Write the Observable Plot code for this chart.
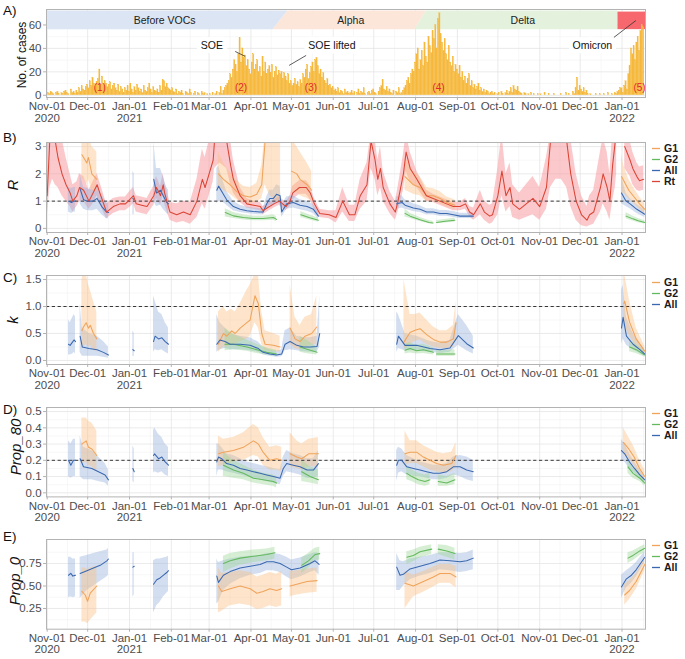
<!DOCTYPE html>
<html><head><meta charset="utf-8">
<script src="https://cdn.jsdelivr.net/npm/d3@7"></script>
<script src="https://cdn.jsdelivr.net/npm/@observablehq/plot@0.6"></script>
<style>
body{margin:0;background:#fff;font-family:"Liberation Sans",Arial,sans-serif;}
#wrap{position:relative;width:685px;height:659px;overflow:hidden;background:#fff;}
#wrap svg{position:absolute;left:0;overflow:visible;}
g[aria-label$="-axis tick"]{stroke:#b3b3b3;}
.lab{position:absolute;left:3px;font-size:13.5px;color:#111;line-height:1;}
.yt{position:absolute;white-space:nowrap;color:#111;line-height:1;transform:translate(-50%,-50%) rotate(-90deg);}
</style>
</head><body><div id="wrap"></div>
<script>
// ---------- DATA ----------
const startDate = "2020-11-01";
const tickDatesStr = ["2020-11-01","2020-12-01","2021-01-01","2021-02-01","2021-03-01","2021-04-01","2021-05-01","2021-06-01","2021-07-01","2021-08-01","2021-09-01","2021-10-01","2021-11-01","2021-12-01","2022-01-01"];
const tickLabels = ["Nov-01\n2020","Dec-01","Jan-01\n2021","Feb-01","Mar-01","Apr-01","May-01","Jun-01","Jul-01","Aug-01","Sep-01","Oct-01","Nov-01","Dec-01","Jan-01\n2022"];

// daily cases by month (first day of month, counts)
const cases2020_11 = [0,2,1,3,2,1,0,2,3,1,0,2,1,3,4,2,1,0,5,2,3,1,4,2,6,3,8,5,4,7];
const cases2020_12 = [9,6,12,8,15,10,7,11,14,22,9,16,8,12,10,7,9,11,5,8,10,6,4,9,3,7,5,2,6,4,8];
const cases2021_01 = [3,10,5,2,7,4,9,6,3,5,2,8,4,3,6,10,5,2,7,4,3,5,2,8,4,13,12,7,10,6,5];
const cases2021_02 = [4,6,3,2,5,1,3,2,4,1,0,3,2,1,5,2,0,1,3,0,2,1,0,3,1,2,0,1];
const cases2021_03 = [0,1,0,2,0,1,3,0,2,7,1,4,6,8,10,12,18,15,22,30,26,20,35,49,28,40,32,34,25,30,22];
const cases2021_04 = [18,28,35,22,26,30,20,24,16,33,20,28,18,22,25,19,26,15,20,24,17,21,18,20,14,19,16,12,18,10];
const cases2021_05 = [12,8,10,14,9,11,7,13,10,18,15,22,26,14,19,24,28,20,30,32,25,18,22,15,19,12,10,14,8,9,6];
const cases2021_06 = [7,4,5,3,6,2,4,3,1,5,2,3,1,2,4,1,3,0,2,5,1,3,2,6,1,0,2,3,1,4];
const cases2021_07 = [5,2,1,0,3,6,8,13,5,4,7,3,5,2,1,4,0,3,2,6,1,2,4,6,8,12,15,10,18,22,20];
const cases2021_08 = [28,35,40,22,30,38,25,45,33,28,50,42,36,55,48,60,40,65,70,52,45,38,48,35,30,42,28,25,33,20,26];
const cases2021_09 = [22,18,25,15,20,12,16,10,14,18,8,12,6,9,5,7,10,4,6,3,5,2,4,3,1,2,3,1,2,0];
const cases2021_10 = [1,2,0,3,1,0,2,4,1,3,6,2,8,5,4,7,3,2,1,0,2,1,0,1,0,2,0,1,0,0,1];
const cases2021_11 = [0,1,0,0,2,0,0,1,0,0,0,1,0,0,0,0,1,0,0,0,2,0,1,0,0,3,1,6,15,4];
const cases2021_12 = [8,5,3,6,2,4,1,0,1,0,0,0,1,0,0,1,0,0,1,0,0,2,0,0,1,0,2,1,3,4,6];
const cases2022_01 = [6,2,8,12,5,18,25,40,35,42,30,45,50,38,55,60,58];
const casesByMonth = [["2020-11-01",cases2020_11],["2020-12-01",cases2020_12],["2021-01-01",cases2021_01],["2021-02-01",cases2021_02],["2021-03-01",cases2021_03],["2021-04-01",cases2021_04],["2021-05-01",cases2021_05],["2021-06-01",cases2021_06],["2021-07-01",cases2021_07],["2021-08-01",cases2021_08],["2021-09-01",cases2021_09],["2021-10-01",cases2021_10],["2021-11-01",cases2021_11],["2021-12-01",cases2021_12],["2022-01-01",cases2022_01]];

// variant periods (day offsets from 2020-11-01): slanted boundaries [bottom, top]
const variantNames = ["Before VOCs","Alpha","Delta","Omicron"];
const variantBounds = [[167.4,178.5],[272.6,281],[423,423]];
const variantBandY = [56,72];
const omicronBandY = [56,71];
// wave labels: day, text
const waveDays = [39,143.7,195.5,290,439];
const waveLabels = ["(1)","(2)","(3)","(4)","(5)"];
// annotations: label, label day, label value, segment (d1,v1,d2,v2)
const annotLabels = ["SOE","SOE lifted","Omicron"];
const annotPos = [[122,42.5],[211,42.5],[404,42.5]];
const annotSeg = [[139.3,37.4,146.7,33.2],[191.9,34,179.3,25.5],[420,49.4,436.3,63.8]];

// series rows: [day, estimate, lower, upper]; null = gap
const R_Rt = [[0,1.2,0.4,3.5],[2,3.3,1.5,3.5],[4,3.5,1.8,3.5],[6,3.2,1.6,3.5],[8,2.6,1.5,3.5],[11,2.0,1.2,3.3],[14,1.6,1.0,2.6],[17,1.3,0.8,2.0],[19,1.0,0.6,1.6],[22,1.2,0.8,1.7],[24,1.5,1.0,2.0],[27,1.4,1.0,1.9],[31,1.0,0.7,1.4],[34,1.3,0.9,1.7],[37,1.6,1.2,2.0],[39,1.3,0.9,1.7],[44,0.6,0.35,0.9],[49,0.8,0.55,1.1],[54,0.9,0.65,1.15],[58,0.9,0.65,1.15],[62,1.1,0.8,1.4],[64,1.2,0.9,1.5],[66,0.9,0.6,1.2],[70,0.85,0.55,1.15],[74,0.8,0.5,1.1],[79,1.2,0.85,1.55],[81,1.5,1.1,1.9],[84,1.2,0.85,1.55],[86,1.6,1.2,2.0],[87,1.3,0.9,1.7],[91,0.6,0.3,0.95],[96,0.5,0.2,0.9],[101,0.6,0.25,1.0],[106,0.5,0.15,0.95],[111,1.0,0.4,1.8],[115,1.8,0.9,2.9],[117,1.5,0.7,2.6],[120,2.0,1.2,3.2],[123,2.5,1.7,3.5],[124,3.2,2.2,3.5],[128,3.5,2.4,3.5],[133,3.2,2.2,3.5],[136,2.3,1.6,3.2],[138,1.8,1.3,2.5],[143,1.2,0.95,1.5],[148,0.9,0.75,1.1],[153,0.85,0.7,1.0],[158,0.8,0.65,0.95],[160,0.65,0.5,0.8],[163,0.75,0.6,0.9],[168,0.9,0.75,1.05],[172,1.0,0.85,1.15],[177,0.8,0.65,0.95],[180,1.0,0.8,1.2],[182,1.3,1.05,1.55],[187,1.5,1.25,1.75],[192,1.5,1.25,1.75],[195,1.3,1.05,1.55],[198,0.9,0.7,1.1],[202,0.55,0.4,0.7],[209,0.5,0.35,0.65],[214,0.4,0.2,0.65],[219,1.0,0.6,1.5],[224,0.5,0.25,0.85],[228,0.5,0.25,0.85],[232,1.2,0.7,1.8],[237,1.6,1.0,2.4],[240,3.2,2.2,3.5],[243,2.5,1.8,3.3],[245,1.8,1.2,2.5],[247,2.2,1.5,3.0],[249,1.5,1.0,2.1],[254,0.9,0.55,1.35],[258,0.6,0.3,1.0],[260,1.0,0.6,1.5],[264,2.0,1.4,2.7],[266,2.8,2.1,3.5],[269,2.2,1.7,2.8],[274,1.8,1.5,2.1],[281,1.2,1.0,1.4],[286,1.1,0.95,1.25],[291,1.0,0.85,1.15],[296,0.9,0.75,1.05],[301,0.8,0.65,0.95],[306,0.8,0.65,0.95],[310,0.9,0.7,1.1],[313,0.6,0.45,0.8],[316,0.5,0.3,0.75],[321,0.9,0.5,1.4],[324,0.6,0.3,1.0],[328,0.45,0.15,0.85],[330,0.5,0.2,0.9],[334,1.2,0.5,2.2],[337,2.1,1.2,3.5],[340,1.2,0.6,2.0],[343,1.5,0.8,2.4],[345,0.9,0.4,1.6],[350,0.7,0.3,1.3],[355,0.9,0.4,1.6],[360,1.1,0.5,1.9],[365,0.8,0.3,1.5],[370,1.5,0.7,2.6],[373,3.2,1.5,3.5],[377,3.5,1.8,3.5],[381,3.5,1.8,3.5],[385,3.2,1.5,3.5],[388,2.0,0.8,3.3],[392,1.0,0.3,2.0],[396,0.5,0.1,1.2],[400,0.3,0.05,0.8],[402,0.5,0.1,1.2],[405,0.6,0.15,1.4],[410,1.5,0.6,2.8],[412,2.0,0.9,3.3],[415,1.5,0.6,2.8],[417,1.0,0.3,2.0],[419,2.3,1.0,3.5],[421,3.2,1.5,3.5],[422,3.5,2.0,3.5],null,[428,3.0,2.2,3.5],[432,2.5,1.9,3.2],[434,2.2,1.6,2.8],[437,1.9,1.4,2.4],[439,1.75,1.35,2.25],[442,1.8,1.4,2.3]];
const R_All = [[15.8,1.0,0.6,1.5],[18,0.95,0.55,1.45],[20,1.0,0.6,1.5],[21,1.0,0.6,1.5],null,[24.4,1.45,0.9,2.0],[27,1.05,0.7,1.5],[30,1.0,0.65,1.45],[34,1.0,0.65,1.4],[37,1.1,0.7,1.5],[40.5,0.8,0.5,1.2],[44,0.6,0.35,0.95],[45.5,0.58,0.35,0.9],null,[63.5,1.1,0.5,2.1],[64.5,1.05,0.5,2.0],null,[79,1.8,1.0,3.2],[81,1.3,0.8,2.2],[84,1.4,0.85,2.2],[86,1.2,0.7,1.9],[88.6,0.95,0.55,1.5],[90,0.9,0.5,1.4],null,[125.7,1.4,0.9,2.2],[127,1.55,1.0,2.3],[130.6,1.25,0.95,1.7],[133,1.05,0.85,1.35],[138,0.8,0.65,1.0],[143,0.7,0.58,0.85],[148,0.65,0.55,0.78],[152.8,0.62,0.52,0.75],[157.8,0.6,0.5,0.72],[160,0.6,0.5,0.72],[162.7,0.9,0.7,1.15],[165,1.1,0.85,1.4],[167.6,1.1,0.85,1.4],[170,1.25,0.95,1.6],[172.6,1.2,0.9,1.55],[173.8,0.6,0.4,0.85],[175,0.7,0.5,0.95],[177.5,0.9,0.7,1.15],[182.4,0.95,0.75,1.2],[187.4,0.85,0.68,1.05],[192.6,0.8,0.63,1.0],[197.3,0.7,0.55,0.88],[201,0.45,0.35,0.6],null,[259,0.9,0.7,1.15],[263,0.95,0.75,1.2],[265.2,0.85,0.7,1.05],[271.4,0.75,0.62,0.9],[276.3,0.7,0.58,0.83],[281.2,0.6,0.5,0.72],[286.2,0.6,0.5,0.72],[291.1,0.55,0.45,0.66],[296.1,0.55,0.45,0.66],[301,0.5,0.4,0.62],[306,0.45,0.36,0.56],[311,0.45,0.36,0.56],[315.8,0.45,0.35,0.58],null,[425.6,1.3,0.9,1.9],[429,1.0,0.8,1.3],[432,0.9,0.72,1.1],[437,0.7,0.55,0.88],[442.9,0.52,0.4,0.68]];
const R_G1 = [[25.7,2.7,1.8,3.5],[27,2.6,1.8,3.5],[29.4,2.4,1.6,3.4],[30.6,2.6,1.8,3.5],[33.1,2.0,1.4,3.0],[36.8,1.8,1.3,2.8],null,[126.9,2.0,1.5,2.8],[130.6,1.8,1.4,2.4],[135.6,1.6,1.25,2.05],[140.5,1.35,1.05,1.75],[145.4,1.2,0.95,1.55],[150.4,1.15,0.9,1.5],[155.3,1.25,0.95,1.65],[159,1.6,1.1,2.3],[161.5,3.2,1.6,3.5],[165,3.5,1.2,3.5],[170,3.5,1.0,3.5],[173,3.5,1.0,3.5],null,[181,2.1,1.3,3.3],[185,2.0,1.3,3.0],[187.4,1.8,1.2,2.8],[192.6,1.6,1.1,2.4],[196,1.4,1.0,2.1],null,[265.2,1.9,1.4,2.6],[271.4,1.6,1.25,2.1],[276.3,1.5,1.2,1.9],[281.2,1.2,1.0,1.5],[286.2,1.2,1.0,1.45],[291.1,1.1,0.9,1.35],[296.1,0.95,0.78,1.15],[302.2,0.85,0.7,1.05],null,[425.6,1.9,1.3,2.7],[427.3,1.75,1.3,2.3],[431,1.4,1.1,1.8],[435,1.15,0.9,1.45],[439,0.9,0.7,1.15],[442.9,0.7,0.52,0.9]];
const R_G2 = [[132,0.58,0.42,0.72],[138,0.46,0.36,0.58],[145.4,0.4,0.31,0.5],[152.8,0.36,0.28,0.45],[160,0.36,0.28,0.45],[167.6,0.4,0.3,0.5],[170,0.33,0.24,0.43],null,[188,0.5,0.4,0.62],[194,0.4,0.32,0.5],[201,0.3,0.23,0.38],null,[265.2,0.55,0.42,0.7],[269,0.45,0.36,0.56],[276.3,0.32,0.25,0.4],[283,0.22,0.17,0.29],[286,0.2,0.15,0.26],null,[288.6,0.22,0.17,0.29],[295,0.26,0.2,0.33],[302.2,0.3,0.23,0.38],null,[429,0.45,0.35,0.58],[434,0.35,0.27,0.45],[438,0.28,0.21,0.36],[442.9,0.22,0.16,0.28]];

const K_All = [[15.8,0.3,0.1,0.75],[17,0.28,0.1,0.7],[19,0.35,0.12,0.8],[20,0.38,0.15,0.85],[21,0.35,0.12,0.8],null,[24.4,0.45,0.15,1.05],[26,0.25,0.08,0.6],[31,0.22,0.08,0.5],[37,0.2,0.08,0.45],[41.7,0.15,0.06,0.35],[45.4,0.1,0.04,0.25],null,[63.5,0.2,0.08,0.55],[64.5,0.18,0.07,0.5],null,[78.8,0.35,0.15,1.2],[80,0.45,0.2,1.1],[82.5,0.4,0.18,0.9],[85,0.42,0.2,0.85],[87.5,0.35,0.15,0.7],[89.9,0.3,0.12,0.6],null,[125.7,0.3,0.15,0.85],[128,0.38,0.2,0.7],[131.8,0.35,0.22,0.6],[135.6,0.3,0.2,0.5],[143,0.3,0.2,0.45],[150.4,0.28,0.18,0.42],[156.5,0.22,0.15,0.34],[160,0.15,0.1,0.25],[165,0.12,0.08,0.2],[170,0.1,0.06,0.17],[173.8,0.12,0.07,0.2],[176.3,0.3,0.18,0.55],[180,0.35,0.2,0.6],[185,0.28,0.18,0.45],[190,0.25,0.16,0.42],[195,0.25,0.15,0.42],[200,0.26,0.15,0.45],[202,0.5,0.25,1.2],null,[259,0.3,0.15,0.9],[260.3,0.45,0.22,0.85],[265.2,0.28,0.18,0.5],[273.8,0.28,0.18,0.45],[283.7,0.22,0.15,0.35],[291.1,0.2,0.13,0.32],[298.5,0.23,0.15,0.37],[304.7,0.46,0.28,0.85],[310.9,0.31,0.18,0.65],[315.8,0.23,0.12,0.45],null,[425.6,0.6,0.3,1.3],[426.8,0.8,0.4,1.4],[429.3,0.45,0.28,0.8],[434.2,0.3,0.2,0.5],[439.2,0.2,0.13,0.32],[442.9,0.12,0.08,0.2]];
const K_G1 = [[25.7,0.55,0.2,1.5],[26.9,0.62,0.25,1.6],[28.9,0.7,0.3,1.6],[30.6,0.6,0.25,1.4],[32,0.65,0.28,1.3],[34.3,0.5,0.2,1.1],[36.8,0.4,0.15,0.9],null,[126.9,0.3,0.15,0.9],[130.6,0.5,0.25,1.0],[133,0.45,0.25,0.9],[136.8,0.55,0.3,0.95],[139.3,0.5,0.3,0.9],[143,0.6,0.35,1.05],[148,0.7,0.4,1.3],[150.4,0.75,0.45,1.4],[154,1.2,0.7,1.6],[156.5,1.05,0.6,1.6],[159,0.5,0.3,0.9],[161.5,0.3,0.18,0.55],[167.6,0.28,0.17,0.5],[172.6,0.25,0.15,0.45],null,[180,0.6,0.3,1.4],[183.7,0.4,0.22,0.8],[187.4,0.35,0.2,0.65],[191.1,0.45,0.25,0.8],[196,0.5,0.28,0.85],[199.8,0.62,0.3,1.2],null,[264.4,0.34,0.2,1.5],[268.9,0.52,0.3,0.85],[272.6,0.56,0.35,0.85],[276.3,0.59,0.38,0.88],[281.2,0.48,0.3,0.75],[286.2,0.39,0.25,0.62],[291.1,0.34,0.22,0.55],[296.1,0.34,0.22,0.55],[301,0.4,0.25,0.65],[303,0.7,0.4,1.1],null,[427.3,1.05,0.6,1.6],[428,1.1,0.65,1.6],[431.6,0.71,0.45,1.1],[436.5,0.4,0.27,0.6],[442.9,0.17,0.1,0.26]];
const K_G2 = [[131.8,0.3,0.18,0.6],[138,0.3,0.2,0.48],[148,0.25,0.17,0.38],[155.3,0.2,0.13,0.3],[162.7,0.15,0.1,0.23],[170,0.12,0.08,0.19],null,[187.4,0.25,0.15,0.45],[193.8,0.2,0.12,0.35],[200,0.15,0.1,0.25],null,[265.2,0.19,0.12,0.3],[268.9,0.22,0.14,0.33],[273.8,0.18,0.12,0.28],[278.8,0.2,0.13,0.3],[286.2,0.15,0.1,0.23],null,[288.6,0.12,0.08,0.19],[295,0.12,0.08,0.19],[302.2,0.12,0.08,0.2],null,[431.6,0.25,0.16,0.38],[436.5,0.2,0.13,0.3],[442.9,0.1,0.06,0.16]];

const P80_All = [[15.8,0.2,0.1,0.32],[17.5,0.17,0.09,0.3],[19.5,0.2,0.1,0.33],[21,0.2,0.1,0.33],null,[24.4,0.21,0.1,0.35],[26.9,0.16,0.08,0.28],[33.1,0.15,0.08,0.26],[38,0.13,0.07,0.22],[42.9,0.11,0.06,0.18],[45.4,0.08,0.04,0.14],null,[63.5,0.15,0.07,0.29],[64.5,0.13,0.06,0.27],null,[78.8,0.23,0.12,0.38],[79.6,0.24,0.13,0.4],[82.5,0.21,0.12,0.36],[85,0.22,0.13,0.34],[87.4,0.19,0.11,0.3],[89.9,0.17,0.1,0.28],null,[125.7,0.19,0.1,0.3],[126.9,0.22,0.14,0.3],[129.3,0.21,0.14,0.28],[133,0.18,0.13,0.24],[138,0.17,0.12,0.23],[143,0.15,0.11,0.21],[148,0.14,0.1,0.19],[152.8,0.13,0.09,0.18],[157.8,0.12,0.08,0.17],[162.7,0.11,0.07,0.16],[167.6,0.1,0.06,0.15],[172.6,0.09,0.05,0.14],[175,0.15,0.1,0.22],[177.5,0.18,0.13,0.26],[182.4,0.17,0.12,0.24],[187.4,0.16,0.11,0.23],[192.6,0.14,0.09,0.21],[197.3,0.14,0.09,0.21],[201,0.18,0.1,0.26],null,[259,0.17,0.07,0.26],[260.3,0.2,0.12,0.28],[262.8,0.2,0.13,0.27],[266.5,0.16,0.11,0.23],[271.4,0.15,0.1,0.21],[276.3,0.14,0.1,0.19],[281.2,0.13,0.09,0.18],[286.2,0.12,0.08,0.17],[291.1,0.12,0.08,0.17],[296.1,0.13,0.09,0.18],[301,0.16,0.11,0.22],[306,0.16,0.1,0.23],[310.9,0.14,0.08,0.22],[315.8,0.13,0.07,0.2],null,[425.6,0.26,0.2,0.33],[428,0.24,0.19,0.3],[431.6,0.19,0.15,0.24],[435.3,0.15,0.12,0.19],[439.2,0.11,0.09,0.14],[442.9,0.08,0.06,0.1]];
const P80_G1 = [[25.7,0.3,0.18,0.46],[28.9,0.32,0.19,0.46],[30.6,0.28,0.17,0.44],[33.1,0.27,0.16,0.43],[36.8,0.23,0.13,0.38],null,[126.9,0.24,0.16,0.35],[130.6,0.25,0.17,0.33],[138,0.26,0.19,0.34],[145.4,0.28,0.2,0.37],[152.8,0.32,0.23,0.42],[156.5,0.3,0.22,0.4],[160,0.25,0.17,0.34],[165,0.2,0.14,0.28],[170,0.21,0.14,0.29],[173.8,0.2,0.13,0.28],null,[180,0.24,0.16,0.37],[185,0.22,0.15,0.32],[188.6,0.21,0.14,0.3],[193.8,0.24,0.16,0.33],[201,0.24,0.16,0.34],null,[265.2,0.24,0.17,0.38],[268.9,0.25,0.18,0.32],[273.8,0.25,0.18,0.32],[278.8,0.22,0.16,0.29],[283.7,0.2,0.14,0.27],[288.6,0.18,0.13,0.25],[293.6,0.17,0.12,0.24],[299.8,0.18,0.13,0.25],[303,0.23,0.16,0.31],null,[427,0.31,0.24,0.4],[431,0.27,0.21,0.34],[435,0.22,0.17,0.28],[439,0.15,0.11,0.2],[442.9,0.1,0.07,0.14]];
const P80_G2 = [[130.6,0.17,0.1,0.25],[138,0.14,0.09,0.2],[145.4,0.12,0.08,0.17],[152.8,0.09,0.06,0.14],[160,0.08,0.05,0.12],[167.6,0.07,0.04,0.11],[170,0.06,0.03,0.1],null,[188.6,0.13,0.07,0.2],[194.8,0.1,0.06,0.16],[201,0.08,0.05,0.14],null,[266.5,0.12,0.08,0.17],[270.2,0.1,0.07,0.14],[275.1,0.08,0.05,0.12],[280,0.07,0.04,0.11],[283.7,0.08,0.05,0.12],null,[289.8,0.07,0.04,0.11],[296.1,0.06,0.04,0.1],[302.2,0.08,0.05,0.12],null,[430.4,0.16,0.12,0.2],[434.2,0.12,0.09,0.16],[439.2,0.09,0.07,0.12],[442.9,0.06,0.04,0.08]];

const P0_All = [[15.8,0.62,0.37,0.82],[17.5,0.64,0.38,0.82],[19,0.61,0.37,0.8],[21,0.62,0.38,0.8],null,[24.4,0.64,0.36,0.82],[29.4,0.67,0.45,0.84],[34.3,0.7,0.5,0.86],[39.3,0.73,0.55,0.88],[44.2,0.78,0.6,0.9],[45.4,0.8,0.62,0.92],null,[63.5,0.71,0.38,0.87],[64.5,0.72,0.4,0.87],null,[78.8,0.52,0.2,0.78],[81.2,0.57,0.28,0.8],[83.7,0.59,0.32,0.8],[86.2,0.62,0.38,0.81],[88.6,0.65,0.42,0.82],[89.9,0.67,0.44,0.83],null,[125.7,0.61,0.3,0.8],[126.9,0.54,0.32,0.76],[130.6,0.62,0.45,0.78],[135.6,0.66,0.52,0.8],[143,0.7,0.58,0.82],[150.4,0.72,0.62,0.83],[157.8,0.74,0.64,0.84],[162.7,0.77,0.67,0.86],[167.6,0.77,0.67,0.86],[172.6,0.75,0.65,0.85],[177.5,0.71,0.6,0.82],[181,0.68,0.57,0.79],[187.4,0.7,0.6,0.81],[194.8,0.75,0.65,0.85],[198.5,0.78,0.67,0.87],[201.5,0.74,0.62,0.86],null,[259,0.71,0.45,0.86],[261.5,0.62,0.45,0.78],[263.9,0.63,0.5,0.77],[268.9,0.69,0.57,0.8],[276.3,0.72,0.61,0.82],[283.7,0.75,0.64,0.84],[291.1,0.79,0.68,0.87],[298.5,0.78,0.67,0.87],[306,0.77,0.65,0.86],[310.9,0.78,0.66,0.87],[315.8,0.81,0.68,0.9],null,[425.6,0.49,0.36,0.62],[429.3,0.58,0.48,0.67],[433,0.62,0.53,0.71],[436.5,0.68,0.6,0.76],[442.9,0.82,0.76,0.88]];
const P0_G1 = [[25.7,0.44,0.1,0.7],[28.2,0.4,0.1,0.7],[29.9,0.33,0.08,0.68],[31.9,0.42,0.12,0.7],[36.8,0.5,0.2,0.72],null,[126.9,0.5,0.2,0.7],[129.3,0.44,0.22,0.64],[135.6,0.47,0.28,0.65],[143,0.5,0.3,0.67],[150.4,0.47,0.28,0.65],[155.3,0.42,0.24,0.6],[160,0.44,0.25,0.62],[165,0.47,0.28,0.65],[170,0.45,0.26,0.63],[173.8,0.47,0.28,0.66],null,[180,0.5,0.38,0.66],[185,0.52,0.4,0.67],[192.6,0.55,0.42,0.69],[200,0.56,0.43,0.7],null,[265.2,0.53,0.25,0.66],[271.4,0.5,0.38,0.62],[278.8,0.55,0.43,0.66],[286.2,0.6,0.49,0.71],[291.1,0.64,0.53,0.74],[298.5,0.64,0.53,0.74],[303,0.6,0.48,0.72],null,[428,0.4,0.29,0.52],[431.6,0.45,0.35,0.56],[436.5,0.55,0.46,0.64],[442.9,0.74,0.67,0.8]];
const P0_G2 = [[130.6,0.75,0.65,0.83],[135.6,0.78,0.69,0.86],[143,0.81,0.73,0.88],[152.8,0.83,0.76,0.9],[162.7,0.85,0.78,0.91],[168.8,0.87,0.8,0.93],null,[188.6,0.73,0.64,0.81],[193.6,0.78,0.7,0.86],[198.5,0.85,0.78,0.92],[202,0.86,0.79,0.93],null,[266.5,0.82,0.74,0.88],[271.4,0.84,0.77,0.9],[276.3,0.88,0.81,0.93],[285,0.91,0.85,0.96],null,[289.8,0.91,0.85,0.96],[296.1,0.89,0.82,0.95],[302.2,0.86,0.79,0.92],null,[430.4,0.81,0.75,0.87],[434.2,0.84,0.78,0.89],[439.2,0.89,0.84,0.93],[442.9,0.92,0.87,0.96]];

// ---------- HELPERS ----------
const t0 = Date.parse(startDate);
const day = d => new Date(t0 + d * 864e5);
const tickDates = tickDatesStr.map(s => new Date(Date.parse(s)));
const minorX = tickDates.map((t, i) => new Date(i + 1 < tickDates.length ? (+t + +tickDates[i + 1]) / 2 : +t + 16 * 864e5));
const xFmt = d => tickLabels[tickDates.findIndex(t => +t === +d)] ?? "";
const FONT = '"Liberation Sans", Arial, sans-serif';
const col = {G1: "#f0a35a", G2: "#63b95d", All: "#3a68b0", Rt: "#db4434"};
const fillc = {G1: "#fbbf80", G2: "#9ed795", All: "#97b1db", Rt: "#f7949a"};
const xDomain = [day(-0.5), day(443.4)];
const wrap = document.getElementById("wrap");

function rows(a) { return a.map(r => r ? {date: day(r[0]), m: r[1], lo: r[2], hi: r[3]} : {date: null, m: NaN, lo: NaN, hi: NaN}); }

function baseOpts(h, y) {
  return {
    width: 685, height: h + 42, marginLeft: 46, marginRight: 40, marginTop: 12, marginBottom: 30,
    style: {fontFamily: FONT, fontSize: "11.5px", color: "#4d4d4d", background: "transparent"},
    x: {type: "utc", domain: xDomain, ticks: tickDates, tickFormat: xFmt, tickSize: 3, tickPadding: 1.5, label: null},
    y: Object.assign({tickSize: 3, tickPadding: 2, label: null}, y)
  };
}
function gridMarks(yMajor, yMinor) {
  return [
    Plot.ruleY(yMinor, {stroke: "#f2f2f2", strokeWidth: 0.6}),
    Plot.ruleX(minorX, {stroke: "#f2f2f2", strokeWidth: 0.6}),
    Plot.ruleY(yMajor, {stroke: "#e4e4e4", strokeWidth: 0.8}),
    Plot.ruleX(tickDates, {stroke: "#e4e4e4", strokeWidth: 0.8})
  ];
}
function place(svg, top) { svg.style.top = (top - 12) + "px"; wrap.appendChild(svg); }

// ---------- PANEL A ----------
const bars = [];
for (const [m, arr] of casesByMonth) {
  const off = (Date.parse(m) - t0) / 864e5;
  arr.forEach((n, i) => bars.push({d: off + i, n}));
}
const vy1 = variantBandY[0], vy2 = variantBandY[1];
const bandBefore = [{d: -0.5, a: vy1, b: vy2}, {d: variantBounds[0][0], a: vy1, b: vy2}, {d: variantBounds[0][1], a: vy2, b: vy2}];
const bandAlpha = [{d: variantBounds[0][0], a: vy1, b: vy1}, {d: variantBounds[0][1], a: vy1, b: vy2}, {d: variantBounds[1][0], a: vy1, b: vy2}, {d: variantBounds[1][1], a: vy2, b: vy2}];
const bandDelta = [{d: variantBounds[1][0], a: vy1, b: vy1}, {d: variantBounds[1][1], a: vy1, b: vy2}, {d: variantBounds[2][0], a: vy1, b: vy2}];
const bandText = [{d: 87, t: variantNames[0]}, {d: 225, t: variantNames[1]}, {d: 352.5, t: variantNames[2]}];

const plotA = Plot.plot(Object.assign(baseOpts(88, {domain: [-1.9, 73.2], ticks: [0, 20, 40, 60]}), {
  marks: [
    ...gridMarks([0, 20, 40, 60], [10, 30, 50, 70]),
    Plot.areaY(bandBefore, {x: d => day(d.d), y1: "a", y2: "b", fill: "#dbe5f3", curve: "linear"}),
    Plot.areaY(bandAlpha, {x: d => day(d.d), y1: "a", y2: "b", fill: "#fce6da", curve: "linear"}),
    Plot.areaY(bandDelta, {x: d => day(d.d), y1: "a", y2: "b", fill: "#e4f1dd", curve: "linear"}),
    Plot.rect([0], {x1: () => day(variantBounds[2][0]), x2: () => day(443.4), y1: omicronBandY[0], y2: omicronBandY[1], fill: "#f6686d"}),
    Plot.text(bandText, {x: d => day(d.d), y: 64, text: "t", fill: "#222", fontSize: 10.5}),
    Plot.rectY(bars, {x1: d => day(d.d - 0.5), x2: d => day(d.d + 0.5), y: "n", fill: "#f6b93d", stroke: "#f6b93d", strokeWidth: 0.2}),
    Plot.link(annotSeg, {x1: d => day(d[0]), y1: d => d[1], x2: d => day(d[2]), y2: d => d[3], stroke: "#333", strokeWidth: 0.8}),
    Plot.text(annotLabels, {x: (d, i) => day(annotPos[i][0]), y: (d, i) => annotPos[i][1], text: d => d, fill: "#111", fontSize: 10.5, stroke: "white", strokeWidth: 9, strokeLinejoin: "round"}),
    Plot.text(waveLabels, {x: (d, i) => day(waveDays[i]), y: 6.5, text: d => d, fill: "#e3262b", fontSize: 10}),
    Plot.frame({stroke: "#b3b3b3"})
  ]
}));
place(plotA, 9);

// ---------- PANELS B-E ----------
function linePanel(top, h, y, yMajor, yMinor, ref, series) {
  const marks = gridMarks(yMajor, yMinor);
  for (const s of series) marks.push(Plot.areaY(rows(s.data), {x: "date", y1: "lo", y2: "hi", fill: fillc[s.g], fillOpacity: s.g === "Rt" ? 0.5 : 0.42, clip: true}));
  marks.push(Plot.ruleY([ref], {stroke: "#222", strokeDasharray: "3.2,2.6", strokeWidth: 0.9}));
  for (const s of series.slice().reverse()) marks.push(Plot.lineY(rows(s.data), {x: "date", y: "m", stroke: col[s.g], strokeWidth: 1.05, clip: true}));
  marks.push(Plot.frame({stroke: "#b3b3b3"}));
  const p = Plot.plot(Object.assign(baseOpts(h, y), {marks}));
  place(p, top);
}
linePanel(141.7, 90, {domain: [-0.15, 3.15], ticks: [0, 1, 2, 3], tickFormat: d3.format("d")}, [0, 1, 2, 3], [0.5, 1.5, 2.5], 1,
  [{g: "Rt", data: R_Rt}, {g: "All", data: R_All}, {g: "G1", data: R_G1}, {g: "G2", data: R_G2}]);
linePanel(275, 89, {domain: [-0.075, 1.575], ticks: [0, 0.5, 1, 1.5], tickFormat: d3.format(".1f")}, [0, 0.5, 1, 1.5], [0.25, 0.75, 1.25], 1,
  [{g: "All", data: K_All}, {g: "G1", data: K_G1}, {g: "G2", data: K_G2}]);
linePanel(407.3, 89.4, {domain: [-0.025, 0.525], ticks: [0, 0.1, 0.2, 0.3, 0.4, 0.5], tickFormat: d3.format(".1f")}, [0, 0.1, 0.2, 0.3, 0.4, 0.5], [0.05, 0.15, 0.25, 0.35, 0.45], 0.2,
  [{g: "All", data: P80_All}, {g: "G1", data: P80_G1}, {g: "G2", data: P80_G2}]);
linePanel(539.3, 89.7, {domain: [0.02, 1.017], ticks: [0.25, 0.5, 0.75], tickFormat: d3.format(".2f")}, [0.25, 0.5, 0.75], [0.125, 0.375, 0.625, 0.875], -1,
  [{g: "All", data: P0_All}, {g: "G1", data: P0_G1}, {g: "G2", data: P0_G2}]);

// ---------- TEXT OVERLAYS ----------
function addDiv(cls, html, css) { const d = document.createElement("div"); d.className = cls; d.innerHTML = html; Object.assign(d.style, css); wrap.appendChild(d); return d; }
[["A)", 4], ["B)", 131], ["C)", 271], ["D)", 403], ["E)", 530]].forEach(([t, y]) => addDiv("lab", t, {top: y + "px"}));
addDiv("yt", "No. of cases", {left: "21.5px", top: "55px", fontSize: "12px"});
addDiv("yt", "<i>R</i>", {left: "12px", top: "185px", fontSize: "15px"});
addDiv("yt", "<i>k</i>", {left: "12px", top: "320px", fontSize: "15px"});
addDiv("yt", "<i>Prop_80</i>", {left: "15px", top: "447px", fontSize: "15px"});
addDiv("yt", "<i>Prop_0</i>", {left: "14px", top: "581px", fontSize: "15px"});

// legends as small SVGs
function legend(items, y0, step) {
  const svg = d3.create("svg").attr("width", 36).attr("height", step * items.length + 4)
    .style("left", "650px").style("top", (y0 - step / 2 - 2) + "px");
  items.forEach((g, i) => {
    const cy = 2 + step / 2 + i * step;
    svg.append("line").attr("x1", 2).attr("x2", 10).attr("y1", cy).attr("y2", cy).attr("stroke", col[g]).attr("stroke-width", 1.3);
    svg.append("text").attr("x", 14).attr("y", cy).attr("dy", "0.36em").attr("font-family", FONT).attr("font-size", 10.5).attr("font-weight", "bold").attr("fill", "#1a1a1a").text(g);
  });
  wrap.appendChild(svg.node());
}
legend(["G1", "G2", "All", "Rt"], 148, 11);
legend(["G1", "G2", "All"], 282, 11);
legend(["G1", "G2", "All"], 413.5, 11);
legend(["G1", "G2", "All"], 545, 11);
</script></body></html>
